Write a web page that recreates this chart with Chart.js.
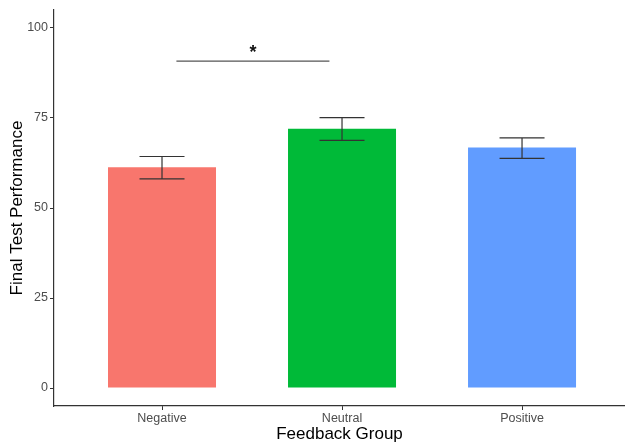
<!DOCTYPE html>
<html>
<head>
<meta charset="utf-8">
<script src="https://cdn.jsdelivr.net/npm/chart.js@4/dist/chart.umd.min.js"></script>
<style>
  html, body { margin: 0; padding: 0; background: #fff; overflow: hidden; }
  canvas { display: block; }
</style>
</head>
<body>
<canvas id="myChart" width="625" height="444"></canvas>
<script>
// values
const groups = ["Negative", "Neutral", "Positive"];
const means = [61.3, 72.0, 66.8];
const errLow = [58.1, 68.8, 63.8];
const errHigh = [64.3, 75.1, 69.5];
const barColors = ["#F8766D", "#00BA38", "#619CFF"];
const yTicks = [0, 25, 50, 75, 100];
// significance bracket: [from x, to x, height], star label
const sigBracket = [1.08, 1.93, 90.8];
const sigLabel = "*";

Chart.defaults.font.family = "'Liberation Sans', Arial, sans-serif";

const statMarks = {
  id: "statMarks",
  afterDatasetsDraw(chart) {
    const { ctx, scales: { x, y } } = chart;
    ctx.save();
    // error bars
    ctx.strokeStyle = "#333";
    ctx.lineWidth = 1.2;
    groups.forEach((g, i) => {
      const cx = x.getPixelForValue(i + 1);
      const half = x.getPixelForValue(i + 1.125) - cx;
      const top = y.getPixelForValue(errHigh[i]);
      const bot = y.getPixelForValue(errLow[i]);
      ctx.beginPath();
      ctx.moveTo(cx - half, top); ctx.lineTo(cx + half, top);
      ctx.moveTo(cx, top); ctx.lineTo(cx, bot);
      ctx.moveTo(cx - half, bot); ctx.lineTo(cx + half, bot);
      ctx.stroke();
    });
    // bracket + star
    const by = y.getPixelForValue(sigBracket[2]);
    ctx.strokeStyle = "#555";
    ctx.lineWidth = 1.4;
    ctx.beginPath();
    ctx.moveTo(x.getPixelForValue(sigBracket[0]), by);
    ctx.lineTo(x.getPixelForValue(sigBracket[1]), by);
    ctx.stroke();
    ctx.fillStyle = "#111";
    ctx.font = "bold 18px 'Liberation Sans', Arial, sans-serif";
    ctx.textAlign = "center";
    ctx.textBaseline = "alphabetic";
    ctx.fillText(sigLabel, x.getPixelForValue((sigBracket[0] + sigBracket[1]) / 2), by - 3);
    ctx.restore();
  }
};

const data = {
  datasets: [
    {
      data: groups.map((g, i) => ({ x: i + 1, y: means[i] })),
      backgroundColor: barColors,
      borderWidth: 0,
      barPercentage: 0.6,
      categoryPercentage: 1.0,
    },
  ],
};

const config = {
  type: "bar",
  data,
  options: {
    responsive: false,
    animation: false,
    devicePixelRatio: 1,
    layout: { padding: { top: 10, right: 0, left: 0, bottom: 0 } },
    plugins: { legend: { display: false }, tooltip: { enabled: false } },
    scales: {
      x: {
        type: "linear",
        offset: false,
        min: 0.4,
        max: 3.572,
        afterBuildTicks: (s) => { s.ticks = groups.map((g, i) => ({ value: i + 1 })); },
        afterFit: (s) => { s.height = 38; },
        ticks: {
          color: "#4d4d4d",
          font: { size: 12.5 },
          padding: 1,
          callback: (v) => groups[v - 1],
        },
        grid: { offset: false, drawOnChartArea: false, tickLength: 4, color: "#333" },
        border: { display: true, color: "#333", width: 1.2 },
        title: {
          display: true,
          text: "Feedback Group",
          color: "#000",
          font: { size: 17 },
          padding: { top: 0, bottom: -1 },
        },
      },
      y: {
        min: -5,
        max: 105,
        afterBuildTicks: (s) => { s.ticks = yTicks.map((v) => ({ value: v })); },
        afterFit: (s) => { s.width = 54; },
        ticks: { color: "#4d4d4d", font: { size: 12.5 }, padding: 2 },
        grid: { drawOnChartArea: false, tickLength: 4, color: "#333" },
        border: { display: true, color: "#333", width: 1.2 },
        title: {
          display: true,
          text: "Final Test Performance",
          color: "#000",
          font: { size: 17 },
          padding: { top: 7, bottom: 0 },
        },
      },
    },
  },
  plugins: [statMarks],
};

const myChart = new Chart(document.getElementById("myChart"), config);
</script>
</body>
</html>
